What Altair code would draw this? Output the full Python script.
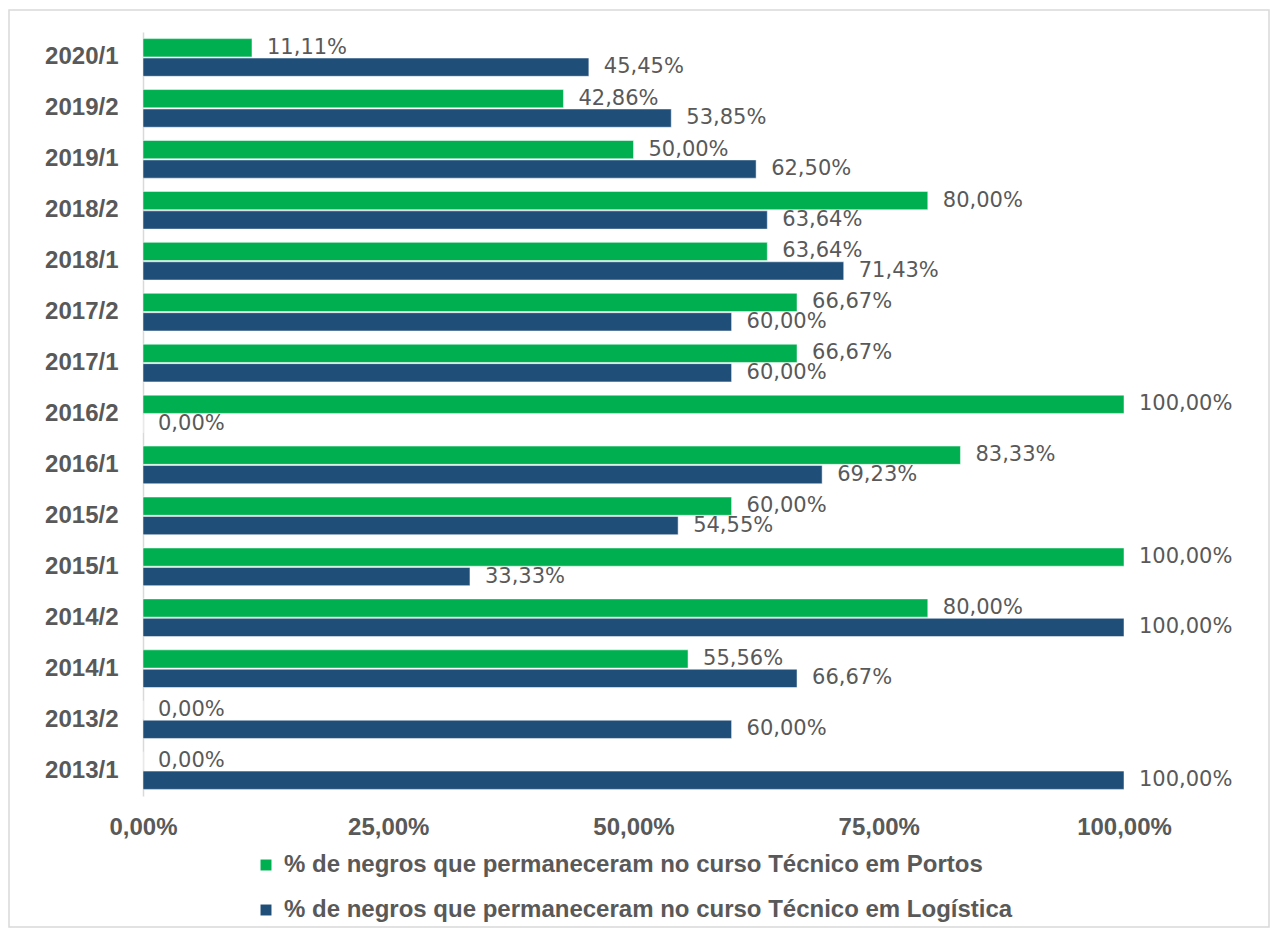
import altair as alt
import pandas as pd

periods = ["2020/1", "2019/2", "2019/1", "2018/2", "2018/1", "2017/2", "2017/1", "2016/2",
           "2016/1", "2015/2", "2015/1", "2014/2", "2014/1", "2013/2", "2013/1"]
portos = [11.11, 42.86, 50.00, 80.00, 63.64, 66.67, 66.67, 100.00, 83.33, 60.00, 100.00, 80.00, 55.56, 0.00, 0.00]
logistica = [45.45, 53.85, 62.50, 63.64, 71.43, 60.00, 60.00, 0.00, 69.23, 54.55, 33.33, 100.00, 66.67, 60.00, 100.00]
series = ["% de negros que permaneceram no curso Técnico em Portos",
          "% de negros que permaneceram no curso Técnico em Logística"]
colors = ["#00B050", "#1F4E79"]
x_ticks = [0, 25, 50, 75, 100]

rows = []
for i, p in enumerate(periods):
    rows.append({"period": p, "series": series[0], "value": portos[i]})
    rows.append({"period": p, "series": series[1], "value": logistica[i]})
df = pd.DataFrame(rows)

W, H = 981, 764
PL, PT, PR, PB = 135, 24, 146, 132
GRAY = "#595959"

y_enc = alt.Y("period:N", sort=periods, title=None,
              scale=alt.Scale(paddingInner=0.26, paddingOuter=0.13),
              axis=alt.Axis(domainColor="#D9D9D9", domainWidth=1.5, ticks=False, grid=False,
                            labelPadding=25, labelFont="Liberation Sans", labelFontWeight="bold",
                            labelFontSize=24, labelColor=GRAY))
yoff_enc = alt.YOffset("series:N", sort=series, scale=alt.Scale(paddingInner=0.06))
x_enc = alt.X("value:Q", title=None, scale=alt.Scale(domain=[0, 100], nice=False),
              axis=alt.Axis(values=x_ticks, domain=False, ticks=False, grid=False, labelFlush=False,
                            labelExpr="replace(format(datum.value, '.2f'), '.', ',') + '%'",
                            labelPadding=19, labelFont="Liberation Sans", labelFontWeight="bold",
                            labelFontSize=24, labelColor=GRAY))

bars = alt.Chart(df).mark_bar(stroke="white", strokeWidth=0.5).encode(
    y=y_enc, yOffset=yoff_enc, x=x_enc,
    color=alt.Color("series:N", scale=alt.Scale(domain=series, range=colors),
                    legend=alt.Legend(title=None, orient="none", legendX=111, legendY=821,
                                      direction="vertical", symbolType="square", symbolSize=120,
                                      symbolStrokeWidth=0, labelFont="Liberation Sans",
                                      labelFontWeight="bold", labelFontSize=24, labelColor=GRAY,
                                      labelLimit=0, rowPadding=21, labelOffset=6))
)

labels = alt.Chart(df).transform_calculate(
    label="replace(format(datum.value, '.2f'), '.', ',') + '%'"
).mark_text(align="left", baseline="middle", dx=15, font="DejaVu Sans",
            fontSize=21, color=GRAY).encode(
    y=y_enc, yOffset=yoff_enc, x=x_enc, text="label:N"
)

border = alt.Chart(alt.Data(values=[{"k": 1}])).mark_rect(
    fillOpacity=0, stroke="#D9D9D9", strokeWidth=1.5
).encode(
    x=alt.value(-PL + 1), x2=alt.value(W + PR - 1),
    y=alt.value(-PT + 2), y2=alt.value(H + PB - 1)
)

chart = alt.layer(border, bars, labels).properties(
    width=W, height=H,
    autosize=alt.AutoSizeParams(type="none"),
    padding={"left": PL, "top": PT, "right": PR, "bottom": PB},
    background="white"
).configure_view(strokeWidth=0)

chart.save("out.html", embed_options={"renderer": "svg", "actions": False})
